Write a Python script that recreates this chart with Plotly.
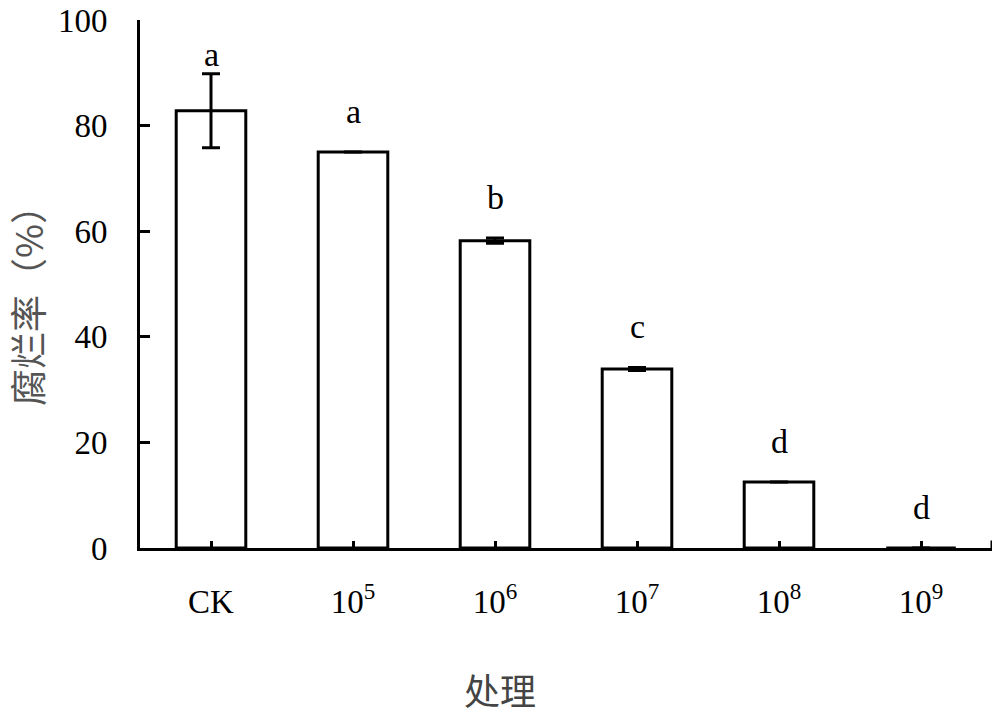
import plotly.graph_objects as go

categories = ["CK", "10<sup>5</sup>", "10<sup>6</sup>", "10<sup>7</sup>", "10<sup>8</sup>", "10<sup>9</sup>"]
rot_rate = [82.8, 75.0, 58.2, 33.9, 12.5, 0.0]
rot_err = [7.0, 0.0, 0.5, 0.3, 0.0, 0.0]
letters = ["a", "a", "b", "c", "d", "d"]
y_ticks = [0, 20, 40, 60, 80, 100]

xpos = list(range(len(categories)))
serif = "Liberation Serif"
cjk = "Noto Sans CJK SC"

W, H = 1000, 716
ML, MR, MT, MB = 140, 8, 20, 168
PW, PH = W - ML - MR, H - MT - MB

fig = go.Figure()
fig.add_trace(go.Bar(
    x=xpos, y=rot_rate, width=0.49,
    marker=dict(color="white", line=dict(color="black", width=3)),
    error_y=dict(type="data", array=rot_err, visible=True, color="black", thickness=3, width=9),
    showlegend=False,
))

for i, (v, e, t) in enumerate(zip(rot_rate, rot_err, letters)):
    fig.add_annotation(
        x=i, y=v + e, text=t, showarrow=False, xref="x", yref="y",
        yanchor="bottom", yshift=(-1 if e > 1 else 20),
        font=dict(family=serif, size=34, color="black"),
    )

# small end tick at the right end of the x axis
fig.add_shape(type="line", xref="x", yref="y", x0=5.5, x1=5.5, y0=0, y1=1.4,
              line=dict(color="black", width=3))

# axis titles (positions in page pixels converted to paper coords)
fig.add_annotation(text="处理", xref="paper", yref="paper",
                   x=(500 - ML) / PW, y=-(689 - (MT + PH)) / PH,
                   xanchor="center", yanchor="middle", showarrow=False,
                   font=dict(family=cjk, size=36, color="#444444"))
fig.add_annotation(text="腐烂率（%）", xref="paper", yref="paper",
                   x=-(ML - 27) / PW, y=((MT + PH) - 297) / PH,
                   xanchor="center", yanchor="middle", showarrow=False, textangle=-90,
                   font=dict(family=cjk, size=37, color="#555555"))

fig.update_layout(
    width=W, height=H,
    margin=dict(l=ML, r=MR, t=MT, b=MB, pad=0),
    plot_bgcolor="white", paper_bgcolor="white",
    bargap=0.5,
    xaxis=dict(
        range=[-0.5, 5.5], tickmode="array", tickvals=xpos, ticktext=categories,
        showline=True, linecolor="black", linewidth=3,
        ticks="inside", ticklen=7, tickwidth=3, tickcolor="black",
        showgrid=False, zeroline=False, automargin=False,
        tickfont=dict(family=serif, size=33, color="black"),
        ticklabelstandoff=22,
    ),
    yaxis=dict(
        range=[0, 100], tickmode="array", tickvals=y_ticks,
        showline=True, linecolor="black", linewidth=3,
        ticks="inside", ticklen=10, tickwidth=3, tickcolor="black",
        showgrid=False, zeroline=False, automargin=False,
        tickfont=dict(family=serif, size=33, color="black"),
        ticklabelstandoff=23,
    ),
)

fig.write_html("out.html", config={"displayModeBar": False},
               post_script="document.body.style.margin='0';")
